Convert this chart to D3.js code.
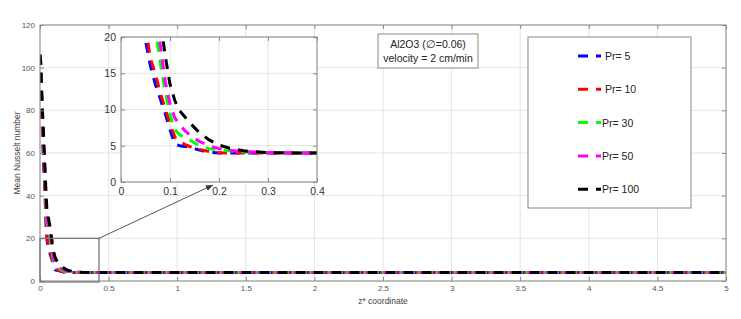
<!DOCTYPE html>
<html><head><meta charset="utf-8">
<script src="https://cdn.jsdelivr.net/npm/d3@7"></script>
<style>body{margin:0;background:#fff}svg{display:block}text{font-family:"Liberation Sans",Arial,sans-serif}</style>
</head><body><svg id="c" width="741" height="319"></svg>
<script>
// ---- data ----
const zCoord = [0,0.005,0.01,0.015,0.02,0.025,0.03,0.035,0.04,0.045,0.05,0.06,0.07,0.08,0.09,0.1,0.11,0.12,0.13,0.14,0.15,0.16,0.18,0.2,0.22,0.25,0.3,0.35,0.4,0.5,1,2,3,4,5];
const nuPr5   = [106,100,84,75,66,58,50,43,34,25,19.5,16,13.5,11.5,9.5,7.2,5.2,5.0,4.9,4.8,4.6,4.4,4.1,4.0,4.0,4.0,4.0,4.0,4.0,4.0,4.0,4.0,4.0,4.0,4.0];
const nuPr10  = [106,101,86,77,68,60,52,44,36,27,21.5,17,15,12.3,10.2,8,6.2,5.6,5.2,4.9,4.7,4.5,4.2,4.05,4.0,4.0,4.0,4.0,4.0,4.0,4.0,4.0,4.0,4.0,4.0];
const nuPr30  = [106,102,90,82,74,66,58,50,42,34,28,24,21,16.5,12.5,9.3,7.2,6.5,6.1,5.8,5.4,5.0,4.6,4.4,4.3,4.15,4.05,4.0,4.0,4.0,4.0,4.0,4.0,4.0,4.0];
const nuPr50  = [106,102,91,83,75,67,59,51,43,36,30,26,23,19,14,10.8,8.8,7.9,7.1,6.5,6.0,5.6,5.0,4.6,4.4,4.2,4.05,4.0,4.0,4.0,4.0,4.0,4.0,4.0,4.0];
const nuPr100 = [106,103,93,85,77,70,62,55,47,40,34,30,26.5,22.5,17.5,13.5,11.2,9.8,9.0,8.2,7.5,6.8,5.8,5.1,4.7,4.3,4.05,4.0,4.0,4.0,4.0,4.0,4.0,4.0,4.0];
const seriesNames = [" Pr= 5"," Pr= 10","Pr= 30","Pr= 50","Pr= 100"];
const seriesColors = ["#0000ff","#ff0000","#00ff00","#ff00ff","#000000"];
const seriesValues = [nuPr5,nuPr10,nuPr30,nuPr50,nuPr100];
const xTicksMain = [0,0.5,1,1.5,2,2.5,3,3.5,4,4.5,5];
const yTicksMain = [0,20,40,60,80,100,120];
const xTicksInset = [0,0.1,0.2,0.3,0.4];
const yTicksInset = [0,5,10,15,20];
const annotationLines = ["Al2O3 (\u2205=0.06)","velocity = 2 cm/min"];
const zoomRegion = {x0:0,x1:0.43,y0:0,y1:20};

const svg = d3.select("#c");
const series = seriesValues.map((v,i)=>({name:seriesNames[i],color:seriesColors[i],pts:zCoord.map((z,j)=>[z,v[j]])}));

function drawAxes(g, x, y, xt, yt, fs, fmtX, clipId, labelColor, padX){
  const [x0,x1]=x.range(), [y0,y1]=y.range();
  g.append("rect").attr("x",x0).attr("y",y1).attr("width",x1-x0).attr("height",y0-y1).attr("fill","#fff");
  const grid=g.append("g").attr("stroke","#e3e3e3").attr("stroke-width",1);
  xt.forEach(t=>grid.append("line").attr("x1",x(t)).attr("x2",x(t)).attr("y1",y0).attr("y2",y1));
  yt.forEach(t=>grid.append("line").attr("x1",x0).attr("x2",x1).attr("y1",y(t)).attr("y2",y(t)));
  svg.append("clipPath").attr("id",clipId).append("rect").attr("x",x0).attr("y",y1).attr("width",x1-x0).attr("height",y0-y1);
  const line=d3.line().x(d=>x(d[0])).y(d=>y(d[1]));
  const cg=g.append("g").attr("clip-path",`url(#${clipId})`);
  series.forEach(s=>cg.append("path").attr("d",line(s.pts)).attr("fill","none").attr("stroke",s.color)
    .attr("stroke-width",3).attr("stroke-dasharray","10,8"));
  const bx=d3.axisBottom(x).tickValues(xt).tickFormat(fmtX).tickSizeInner(-4).tickSizeOuter(0).tickPadding(padX);
  const by=d3.axisLeft(y).tickValues(yt).tickFormat(d3.format("d")).tickSizeInner(-4).tickSizeOuter(0).tickPadding(5);
  const tx=d3.axisTop(x).tickValues(xt).tickFormat("").tickSizeInner(-4).tickSizeOuter(0);
  const ty=d3.axisRight(y).tickValues(yt).tickFormat("").tickSizeInner(-4).tickSizeOuter(0);
  [[bx,`translate(0,${y0})`],[by,`translate(${x0},0)`],[tx,`translate(0,${y1})`],[ty,`translate(${x1},0)`]].forEach(([a,t])=>{
    const ag=g.append("g").attr("transform",t).call(a);
    ag.select(".domain").remove();
    ag.selectAll("line").attr("stroke","#8a8a8a");
    ag.selectAll("text").attr("font-size",fs).attr("fill",labelColor).attr("font-family",null);
  });
  g.append("rect").attr("x",x0).attr("y",y1).attr("width",x1-x0).attr("height",y0-y1).attr("fill","none").attr("stroke","#8a8a8a").attr("stroke-width",1);
}

// main axes
const xM=d3.scaleLinear().domain([0,5]).range([40,726]);
const yM=d3.scaleLinear().domain([0,120]).range([281,25]);
const gM=svg.append("g");
drawAxes(gM,xM,yM,xTicksMain,yTicksMain,8,d=>d3.format("")(d),"clipMain","#555",4);
svg.append("text").attr("x",(40+726)/2).attr("y",304).attr("text-anchor","middle").attr("font-size",8.5).attr("fill","#444").text("z* coordinate");
svg.append("text").attr("transform","translate(20,153) rotate(-90)").attr("text-anchor","middle").attr("font-size",8.5).attr("fill","#444").text("Mean Nusselt number");

// zoom rectangle and arrow
svg.append("defs").append("marker").attr("id","ah").attr("viewBox","0 0 10 10").attr("refX",10).attr("refY",5)
  .attr("markerWidth",8).attr("markerHeight",8).attr("orient","auto").append("path").attr("d","M0,1 L10,5 L0,9 z").attr("fill","#333");
svg.append("rect").attr("x",xM(zoomRegion.x0)).attr("y",yM(zoomRegion.y1)).attr("width",xM(zoomRegion.x1)-xM(zoomRegion.x0))
  .attr("height",yM(zoomRegion.y0)-yM(zoomRegion.y1)+1).attr("fill","none").attr("stroke","#777").attr("stroke-width",1.3);
svg.append("line").attr("x1",xM(zoomRegion.x1)).attr("y1",yM(zoomRegion.y1)).attr("x2",213).attr("y2",185)
  .attr("stroke","#444").attr("stroke-width",0.9).attr("marker-end","url(#ah)");

// inset axes
const xI=d3.scaleLinear().domain([0,0.4]).range([121,317]);
const yI=d3.scaleLinear().domain([0,20]).range([182,37]);
const gI=svg.append("g");
drawAxes(gI,xI,yI,xTicksInset,yTicksInset,10.5,d=>d===0?"0":d3.format(".1f")(d),"clipInset","#333",6);

// annotation box
const ab=svg.append("g");
ab.append("rect").attr("x",378).attr("y",34).attr("width",100).attr("height",34).attr("fill","#fff").attr("stroke","#888");
annotationLines.forEach((t,i)=>ab.append("text").attr("x",428).attr("y",48+i*14).attr("text-anchor","middle").attr("font-size",10.5).attr("fill","#222").text(t));

// legend
const lg=svg.append("g");
lg.append("rect").attr("x",528).attr("y",37).attr("width",163).attr("height",171).attr("fill","#fff").attr("stroke","#888");
series.forEach((s,i)=>{
  const yy=56+i*33.3;
  lg.append("line").attr("x1",578).attr("x2",601).attr("y1",yy).attr("y2",yy).attr("stroke",s.color).attr("stroke-width",3).attr("stroke-dasharray","10,8");
  lg.append("text").attr("x",602).attr("y",yy+4).attr("font-size",10.5).attr("fill","#222").style("white-space","pre").text(s.name);
});
</script></body></html>
